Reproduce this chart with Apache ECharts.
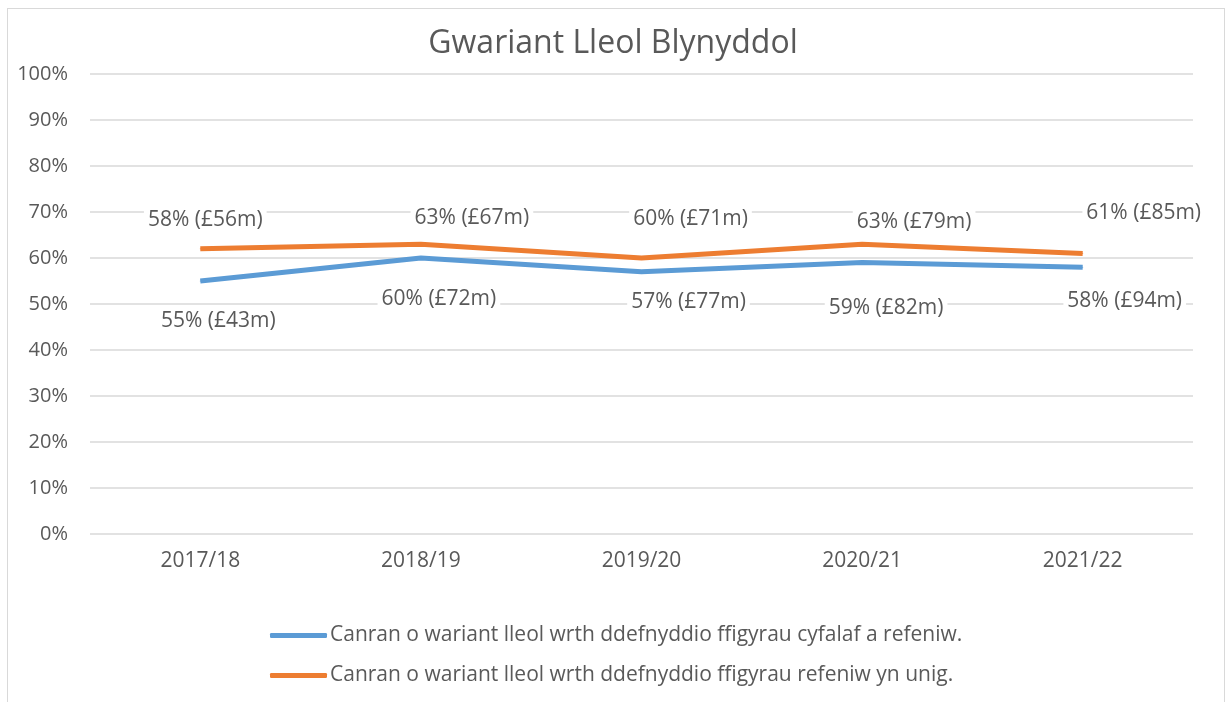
<!DOCTYPE html>
<html><head><meta charset="utf-8">
<script src="https://cdn.jsdelivr.net/npm/echarts@6/dist/echarts.min.js"></script>
<style>
html,body{margin:0;padding:0;background:#fff;}
#frame{position:absolute;left:7px;top:8px;width:1218px;height:700px;border:1px solid #d9d9d9;box-sizing:border-box;}
#c{position:absolute;left:0;top:0;width:1226px;height:702px;}
</style></head>
<body><div id="frame"></div><div id="c"></div>
<script>
const title = 'Gwariant Lleol Blynyddol';
const categories = ['2017/18','2018/19','2019/20','2020/21','2021/22'];
const seriesNames = [
  'Canran o wariant lleol wrth ddefnyddio ffigyrau cyfalaf a refeniw.',
  'Canran o wariant lleol wrth ddefnyddio ffigyrau refeniw yn unig.'
];
const blueValues = [55, 60, 57, 59, 58];
const orangeValues = [62, 63, 60, 63, 61];
const blueLabels = ['55% (£43m)','60% (£72m)','57% (£77m)','59% (£82m)','58% (£94m)'];
const orangeLabels = ['58% (£56m)','63% (£67m)','60% (£71m)','63% (£79m)','61% (£85m)'];
const yTicks = [0,10,20,30,40,50,60,70,80,90,100];

// label offsets (style only)
const blueOffsets = [[18,40],[18,41],[47,30],[24,45],[42,34]];
const orangeOffsets = [[5,-29],[51,-26],[49,-39],[52,-22],[61,-40]];

const textColor = '#595959';
const font = '"Open Sans", sans-serif';

function mkData(vals, labels, offs){
  return vals.map((v,i)=>({value:v, label:{formatter:labels[i], offset:offs[i]}}));
}
const chart = echarts.init(document.getElementById('c'));
chart.setOption({
  animation:false,
  title:{text:title,left:'center',top:23,textStyle:{fontFamily:font,fontSize:32,fontWeight:'normal',color:textColor}},
  grid:{left:90,right:33,top:74,bottom:168},
  xAxis:{type:'category',data:categories,boundaryGap:true,
    axisLine:{show:false},axisTick:{show:false},
    axisLabel:{color:textColor,fontSize:21,margin:17,fontFamily:font}},
  yAxis:{type:'value',min:yTicks[0],max:yTicks[yTicks.length-1],interval:10,
    axisLabel:{formatter:'{value}%',color:textColor,fontSize:20,margin:22,fontFamily:font},
    splitLine:{lineStyle:{color:'#d9d9d9',width:1.5}},axisLine:{show:false},axisTick:{show:false}},
  legend:{orient:'vertical',left:265,top:620,itemWidth:57,itemHeight:5,itemGap:19,
    icon:'roundRect',
    textStyle:{color:textColor,fontSize:21,fontFamily:font,padding:[0,0,0,-2]},
    data:seriesNames},
  series:[
    {name:seriesNames[0],type:'line',data:mkData(blueValues,blueLabels,blueOffsets),
     symbol:'circle',symbolSize:1,showSymbol:true,
     lineStyle:{color:'#5B9BD5',width:5},itemStyle:{color:'#5B9BD5'},
     label:{show:true,position:'inside',color:textColor,fontSize:21,fontFamily:font,backgroundColor:'#fff',padding:[1,4]},
     emphasis:{disabled:true}},
    {name:seriesNames[1],type:'line',data:mkData(orangeValues,orangeLabels,orangeOffsets),
     symbol:'circle',symbolSize:1,showSymbol:true,
     lineStyle:{color:'#ED7D31',width:5},itemStyle:{color:'#ED7D31'},
     label:{show:true,position:'inside',color:textColor,fontSize:21,fontFamily:font,backgroundColor:'#fff',padding:[1,4]},
     emphasis:{disabled:true}}
  ]
});
</script></body></html>
